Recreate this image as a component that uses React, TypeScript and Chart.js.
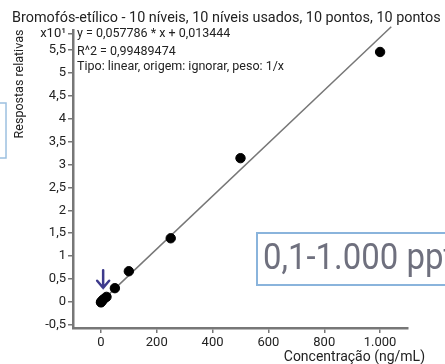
import React, { useEffect, useRef } from "react";
import { Chart, registerables } from "chart.js";

Chart.register(...registerables);

const TITLE = "Bromofós-etílico - 10 níveis, 10 níveis usados, 10 pontos, 10 pontos";
const EQUATION_LINES = [
  "y = 0,057786 * x + 0,013444",
  "R^2 = 0,99489474",
  "Tipo: linear, origem: ignorar, peso: 1/x",
];
const Y_TITLE = "Respostas relativas";
const X_TITLE = "Concentração (ng/mL)";
const RANGE_LABEL = "0,1-1.000 ppt";
const Y_MULTIPLIER = "x10¹";

const concentrations = [0.1, 1, 5, 10, 20, 50, 100, 250, 500, 1000];
const responses = [-0.01, 0.0, 0.03, 0.06, 0.11, 0.3, 0.67, 1.39, 3.14, 5.46];

const fitX = [0, 1040];
const fitY = [0.0013, 6.01];

const xTicks = [0, 200, 400, 600, 800, 1000];
const yTicks = [-0.5, 0, 0.5, 1, 1.5, 2, 2.5, 3, 3.5, 4, 4.5, 5, 5.5];
const Y_MULTIPLIER_AT = 5.85;

const X_MIN = -100;
const X_MAX = 1100;
const Y_MIN = -0.57;
const Y_MAX = 5.94;

const arrowX = 8;
const arrowTop = 0.69;
const arrowTip = 0.31;

const FONT = "Roboto, 'Noto Sans', sans-serif";

function fmtNum(v: number): string {
  if (Math.abs(v) >= 1000) {
    return v.toLocaleString("de-DE");
  }
  return String(v).replace(".", ",");
}

const overlayPlugin = {
  id: "overlay",
  afterDraw(chart: any) {
    const ctx: CanvasRenderingContext2D = chart.ctx;
    const xs = chart.scales.x;
    const ys = chart.scales.y;
    ctx.save();
    // title
    ctx.fillStyle = "#222";
    ctx.font = `14.4px ${FONT}`;
    ctx.textAlign = "left";
    ctx.textBaseline = "middle";
    ctx.fillText(TITLE, 12, 18);
    // equation
    ctx.font = `12.5px ${FONT}`;
    ctx.fillStyle = "#222";
    const eqY = [34, 51.5, 67];
    EQUATION_LINES.forEach((t, i) => ctx.fillText(t, 77, eqY[i]));
    // x title
    ctx.font = `14px ${FONT}`;
    ctx.textAlign = "right";
    ctx.fillStyle = "#222";
    ctx.fillText(X_TITLE, 425, 357);
    // y title
    ctx.save();
    ctx.font = `12.5px ${FONT}`;
    ctx.translate(20, 84);
    ctx.rotate(-Math.PI / 2);
    ctx.textAlign = "center";
    ctx.fillText(Y_TITLE, 0, 0);
    ctx.restore();
    // left box (cut)
    ctx.strokeStyle = "#9cc0e0";
    ctx.lineWidth = 1.5;
    ctx.strokeRect(-10, 103, 16, 55);
    // range box
    ctx.fillStyle = "#fff";
    ctx.fillRect(257, 233, 210, 52);
    ctx.strokeStyle = "#8ab4dc";
    ctx.lineWidth = 2;
    ctx.strokeRect(257, 233, 210, 52);
    ctx.save();
    ctx.fillStyle = "#6f707e";
    ctx.font = `37px ${FONT}`;
    ctx.textAlign = "left";
    ctx.textBaseline = "alphabetic";
    ctx.translate(263, 269);
    ctx.scale(0.89, 1);
    ctx.fillText(RANGE_LABEL, 0, 0);
    ctx.restore();
    // arrow
    const ax = xs.getPixelForValue(arrowX);
    const at = ys.getPixelForValue(arrowTop);
    const ab = ys.getPixelForValue(arrowTip);
    ctx.strokeStyle = "#3d3a8c";
    ctx.lineWidth = 2.5;
    ctx.lineCap = "round";
    ctx.beginPath();
    ctx.moveTo(ax, at);
    ctx.lineTo(ax, ab);
    ctx.moveTo(ax - 6, ab - 7);
    ctx.lineTo(ax, ab);
    ctx.lineTo(ax + 6, ab - 7);
    ctx.stroke();
    ctx.restore();
  },
};

export default function App() {
  const ref = useRef<HTMLCanvasElement | null>(null);
  useEffect(() => {
    if (!ref.current) return;
    const chart = new Chart(ref.current, {
      type: "scatter",
      data: {
        datasets: [
          {
            type: "line",
            data: fitX.map((x, i) => ({ x, y: fitY[i] })),
            borderColor: "#777",
            borderWidth: 1.5,
            pointRadius: 0,
            fill: false,
            clip: false as any,
            order: 2,
          } as any,
          {
            data: concentrations.map((x, i) => ({ x, y: responses[i] })),
            backgroundColor: "#000",
            borderColor: "#000",
            pointRadius: 4.7,
            order: 1,
          },
        ],
      },
      options: {
        responsive: false,
        animation: false,
        layout: { padding: { top: 30, right: 37, left: 0, bottom: 0 } },
        plugins: { legend: { display: false }, tooltip: { enabled: false }, title: { display: false } },
        scales: {
          x: {
            type: "linear",
            min: X_MIN,
            max: X_MAX,
            afterFit(s: any) {
              s.height = 36;
            },
            afterBuildTicks(s: any) {
              s.ticks = xTicks.map((v) => ({ value: v }));
            },
            ticks: {
              color: "#222",
              font: { family: FONT, size: 13 },
              padding: 2,
              maxRotation: 0,
              callback: (v: any) => fmtNum(Number(v)),
            },
            grid: { display: true, drawOnChartArea: false, drawTicks: true, tickLength: 5, color: "#777", lineWidth: 1.5 },
            border: { display: true, color: "#777", width: 2.5 },
          },
          y: {
            type: "linear",
            min: Y_MIN,
            max: Y_MAX,
            afterFit(s: any) {
              s.width = 73;
            },
            afterBuildTicks(s: any) {
              s.ticks = [...yTicks.map((v) => ({ value: v })), { value: Y_MULTIPLIER_AT }];
            },
            ticks: {
              color: "#222",
              font: { family: FONT, size: 13 },
              padding: 2,
              callback: (v: any) => (Number(v) === Y_MULTIPLIER_AT ? Y_MULTIPLIER : fmtNum(Number(v))),
            },
            grid: { display: true, drawOnChartArea: false, drawTicks: true, tickLength: 5, color: "#777", lineWidth: 1.5 },
            border: { display: true, color: "#777", width: 2.5 },
          },
        },
      },
      plugins: [overlayPlugin],
    });
    return () => chart.destroy();
  }, []);
  return (
    <div style={{ position: "fixed", left: 0, top: 0, width: 445, height: 364, background: "#fff" }}>
      <canvas ref={ref} width={445} height={364} />
    </div>
  );
}
